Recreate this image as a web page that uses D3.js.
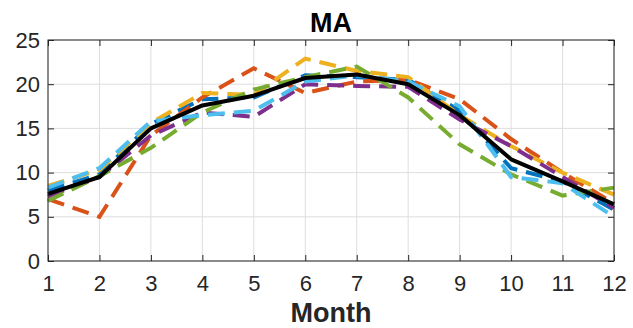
<!DOCTYPE html>
<html>
<head>
<meta charset="utf-8">
<script src="https://cdn.jsdelivr.net/npm/d3@7"></script>
<style>
  body { margin: 0; background: #fff; }
  svg { font-family: "Liberation Sans", Arial, sans-serif; }
</style>
</head>
<body>
<div id="chart"></div>
<script>
const months = [1, 2, 3, 4, 5, 6, 7, 8, 9, 10, 11, 12];
const xTicks = months;
const yTicks = [0, 5, 10, 15, 20, 25];

const blue   = [8.0, 9.8, 15.5, 18.3, 18.5, 21.0, 20.8, 20.5, 17.0, 10.5, 9.0, 5.8];
const orange = [7.0, 5.0, 14.2, 18.5, 21.8, 19.0, 20.3, 20.5, 18.3, 13.8, 10.0, 6.5];
const yellow = [8.5, 10.3, 15.6, 19.0, 18.8, 22.9, 21.5, 20.8, 16.5, 13.0, 10.0, 7.5];
const purple = [7.3, 9.5, 14.2, 16.8, 16.3, 20.0, 19.8, 19.7, 16.0, 13.0, 9.5, 6.0];
const green  = [6.8, 9.6, 12.8, 16.8, 19.4, 20.8, 22.0, 18.5, 13.2, 9.8, 7.4, 8.3];
const lightBlue = [8.3, 10.5, 15.8, 16.5, 17.0, 20.3, 21.0, 20.3, 17.5, 9.5, 8.8, 5.0];
const mean   = [7.6, 9.5, 15.0, 17.6, 18.7, 20.7, 21.1, 20.0, 16.5, 11.5, 9.0, 6.4];

const series = [
  { values: blue, color: "#0072BD" },
  { values: orange, color: "#D95319" },
  { values: yellow, color: "#EDB120" },
  { values: purple, color: "#7E2F8E" },
  { values: green, color: "#77AC30" },
  { values: lightBlue, color: "#4DBEEE" },
];

const width = 633, height = 328;
const margin = { top: 40, right: 19, bottom: 67, left: 48 };
const innerW = width - margin.left - margin.right;
const innerH = height - margin.top - margin.bottom;
const axisColor = "#262626";

const svg = d3.select("#chart").append("svg")
  .attr("width", width)
  .attr("height", height);

const g = svg.append("g")
  .attr("transform", `translate(${margin.left},${margin.top})`);

const x = d3.scaleLinear().domain([1, 12]).range([0, innerW]);
const y = d3.scaleLinear().domain([0, 25]).range([innerH, 0]);

// grid
g.append("g").selectAll("line")
  .data(xTicks)
  .join("line")
  .attr("x1", d => x(d)).attr("x2", d => x(d))
  .attr("y1", 0).attr("y2", innerH)
  .attr("stroke", "#dedede").attr("stroke-width", 1);

g.append("g").selectAll("line")
  .data(yTicks)
  .join("line")
  .attr("x1", 0).attr("x2", innerW)
  .attr("y1", d => y(d)).attr("y2", d => y(d))
  .attr("stroke", "#dedede").attr("stroke-width", 1);

const line = d3.line()
  .x((d, i) => x(months[i]))
  .y(d => y(d));

g.selectAll(".series")
  .data(series)
  .join("path")
  .attr("class", "series")
  .attr("d", d => line(d.values))
  .attr("fill", "none")
  .attr("stroke", d => d.color)
  .attr("stroke-width", 4)
  .attr("stroke-dasharray", "17,9");

g.append("path")
  .attr("d", line(mean))
  .attr("fill", "none")
  .attr("stroke", "#000")
  .attr("stroke-width", 4)
  .attr("stroke-linejoin", "round");

// axes (ticks inside, on all four sides)
const styleAxis = sel => {
  sel.select(".domain").remove();
  sel.selectAll(".tick line").attr("stroke", axisColor);
  sel.selectAll(".tick text").attr("fill", axisColor).style("font-size", "22px");
};

g.append("g")
  .attr("transform", `translate(0,${innerH})`)
  .call(d3.axisBottom(x).tickValues(xTicks).tickSizeInner(-6).tickSizeOuter(0).tickPadding(14))
  .call(styleAxis);

g.append("g")
  .call(d3.axisTop(x).tickValues(xTicks).tickSizeInner(-6).tickSizeOuter(0).tickFormat(""))
  .call(styleAxis);

g.append("g")
  .call(d3.axisLeft(y).tickValues(yTicks).tickSizeInner(-6).tickSizeOuter(0).tickPadding(8))
  .call(styleAxis);

g.append("g")
  .attr("transform", `translate(${innerW},0)`)
  .call(d3.axisRight(y).tickValues(yTicks).tickSizeInner(-6).tickSizeOuter(0).tickFormat(""))
  .call(styleAxis);

g.append("rect")
  .attr("width", innerW).attr("height", innerH)
  .attr("fill", "none").attr("stroke", axisColor).attr("stroke-width", 1);

svg.append("text")
  .attr("x", margin.left + innerW / 2)
  .attr("y", 32)
  .attr("text-anchor", "middle")
  .style("font-size", "27px").style("font-weight", "bold")
  .attr("fill", "#000")
  .text("MA");

svg.append("text")
  .attr("x", margin.left + innerW / 2)
  .attr("y", 322)
  .attr("text-anchor", "middle")
  .style("font-size", "27px").style("font-weight", "bold")
  .attr("fill", axisColor)
  .text("Month");
</script>
</body>
</html>
